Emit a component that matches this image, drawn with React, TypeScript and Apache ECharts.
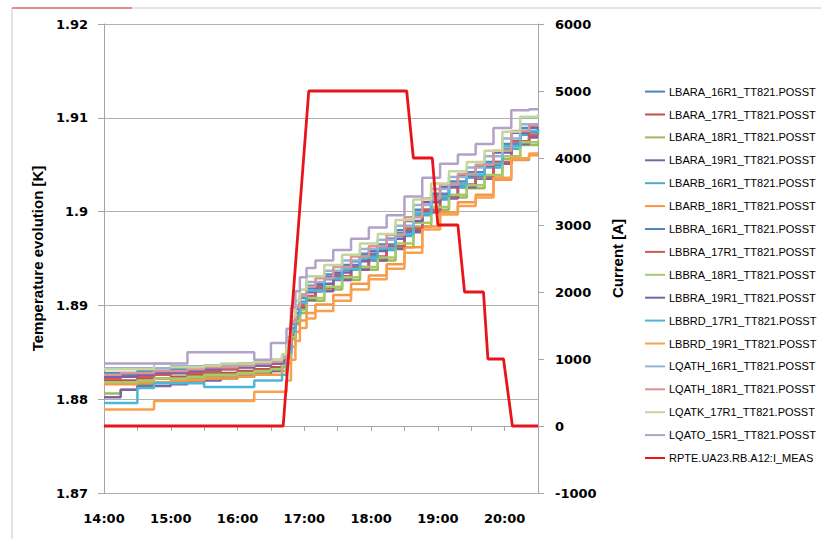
import React, { useEffect, useRef } from "react";
import * as echarts from "echarts";

// time in minutes after midnight
const times = [840, 855, 870, 885, 900, 915, 930, 945, 960, 975, 990, 1000, 1004, 1008, 1012, 1016, 1022, 1030, 1038, 1046, 1054, 1062, 1070, 1078, 1086, 1094, 1102, 1110, 1118, 1126, 1134, 1142, 1150, 1158, 1166, 1174, 1182, 1190, 1198, 1206, 1214, 1222, 1230];

const LBARA_16R1 = [1.8826,1.8826,1.8828,1.8828,1.8830,1.8832,1.8832,1.8834,1.8836,1.8836,1.8838,1.8842,1.8853,1.8873,1.8891,1.8903,1.8918,1.8918,1.8930,1.8930,1.8941,1.8941,1.8952,1.8952,1.8962,1.8962,1.8977,1.8977,1.8998,1.8998,1.9016,1.9016,1.9028,1.9028,1.9038,1.9038,1.9050,1.9050,1.9070,1.9070,1.9085,1.9085,1.9088];
const LBARA_17R1 = [1.8820,1.8820,1.8822,1.8822,1.8824,1.8826,1.8828,1.8828,1.8830,1.8832,1.8834,1.8838,1.8848,1.8868,1.8884,1.8898,1.8908,1.8918,1.8918,1.8928,1.8928,1.8940,1.8940,1.8949,1.8949,1.8961,1.8961,1.8980,1.8980,1.9000,1.9000,1.9016,1.9016,1.9027,1.9027,1.9036,1.9036,1.9051,1.9051,1.9072,1.9072,1.9080,1.9080];
const LBARA_18R1 = [1.8806,1.8810,1.8816,1.8818,1.8818,1.8822,1.8824,1.8824,1.8826,1.8828,1.8830,1.8834,1.8844,1.8864,1.8880,1.8892,1.8905,1.8905,1.8917,1.8917,1.8927,1.8927,1.8938,1.8938,1.8948,1.8948,1.8962,1.8962,1.8984,1.8984,1.9002,1.9002,1.9015,1.9015,1.9025,1.9025,1.9036,1.9036,1.9056,1.9056,1.9071,1.9071,1.9074];
const LBARA_19R1 = [1.8802,1.8810,1.8814,1.8814,1.8816,1.8818,1.8820,1.8822,1.8824,1.8826,1.8830,1.8836,1.8846,1.8866,1.8882,1.8896,1.8906,1.8915,1.8915,1.8927,1.8927,1.8938,1.8938,1.8948,1.8948,1.8960,1.8960,1.8978,1.8978,1.8999,1.8999,1.9014,1.9014,1.9026,1.9026,1.9035,1.9035,1.9051,1.9051,1.9072,1.9072,1.9079,1.9079];
const LBARB_16R1 = [1.8824,1.8824,1.8826,1.8826,1.8828,1.8830,1.8830,1.8832,1.8834,1.8836,1.8838,1.8842,1.8852,1.8872,1.8890,1.8902,1.8915,1.8915,1.8928,1.8928,1.8938,1.8938,1.8949,1.8949,1.8959,1.8959,1.8974,1.8974,1.8996,1.8996,1.9013,1.9013,1.9026,1.9026,1.9036,1.9036,1.9047,1.9047,1.9067,1.9067,1.9082,1.9082,1.9085];
const LBARB_18R1 = [1.8816,1.8816,1.8818,1.8818,1.8820,1.8820,1.8822,1.8822,1.8824,1.8826,1.8826,1.8830,1.8838,1.8856,1.8872,1.8884,1.8892,1.8901,1.8901,1.8911,1.8911,1.8923,1.8923,1.8932,1.8932,1.8944,1.8944,1.8962,1.8962,1.8984,1.8984,1.8999,1.8999,1.9010,1.9010,1.9018,1.9018,1.9034,1.9034,1.9055,1.9055,1.9060,1.9060];
const LBBRA_16R1 = [1.8828,1.8828,1.8830,1.8830,1.8832,1.8834,1.8836,1.8836,1.8838,1.8840,1.8840,1.8844,1.8860,1.8880,1.8896,1.8908,1.8921,1.8921,1.8933,1.8933,1.8943,1.8943,1.8955,1.8955,1.8965,1.8965,1.8980,1.8980,1.9002,1.9002,1.9019,1.9019,1.9032,1.9032,1.9042,1.9042,1.9053,1.9053,1.9072,1.9072,1.9089,1.9089,1.9090];
const LBBRA_17R1 = [1.8822,1.8824,1.8824,1.8826,1.8828,1.8828,1.8830,1.8832,1.8834,1.8836,1.8838,1.8840,1.8850,1.8870,1.8887,1.8900,1.8910,1.8919,1.8919,1.8931,1.8931,1.8941,1.8941,1.8952,1.8952,1.8963,1.8963,1.8982,1.8982,1.9002,1.9002,1.9017,1.9017,1.9029,1.9029,1.9038,1.9038,1.9053,1.9053,1.9075,1.9075,1.9082,1.9082];
const LBBRA_18R1 = [1.8818,1.8818,1.8820,1.8822,1.8822,1.8824,1.8826,1.8826,1.8828,1.8830,1.8832,1.8836,1.8846,1.8866,1.8883,1.8895,1.8908,1.8908,1.8920,1.8920,1.8930,1.8930,1.8941,1.8941,1.8951,1.8951,1.8966,1.8966,1.8988,1.8988,1.9005,1.9005,1.9018,1.9018,1.9028,1.9028,1.9039,1.9039,1.9059,1.9059,1.9074,1.9074,1.9076];
const LBBRA_19R1 = [1.8824,1.8824,1.8826,1.8828,1.8828,1.8830,1.8832,1.8834,1.8834,1.8836,1.8838,1.8842,1.8856,1.8876,1.8892,1.8904,1.8914,1.8923,1.8923,1.8935,1.8935,1.8947,1.8947,1.8958,1.8958,1.8971,1.8971,1.8990,1.8990,1.9010,1.9010,1.9026,1.9026,1.9038,1.9038,1.9049,1.9049,1.9063,1.9063,1.9084,1.9084,1.9090,1.9090];
const LBBRD_17R1 = [1.8796,1.8796,1.8812,1.8817,1.8817,1.8817,1.8813,1.8813,1.8813,1.8820,1.8820,1.8826,1.8850,1.8872,1.8890,1.8903,1.8916,1.8916,1.8929,1.8929,1.8939,1.8939,1.8951,1.8951,1.8961,1.8961,1.8976,1.8976,1.8998,1.8998,1.9016,1.9016,1.9029,1.9029,1.9039,1.9039,1.9051,1.9051,1.9070,1.9070,1.9086,1.9086,1.9087];
const LBBRD_19R1 = [1.8789,1.8789,1.8789,1.8798,1.8798,1.8798,1.8798,1.8798,1.8798,1.8808,1.8808,1.8808,1.8820,1.8842,1.8862,1.8876,1.8886,1.8894,1.8894,1.8905,1.8905,1.8917,1.8917,1.8928,1.8928,1.8939,1.8939,1.8956,1.8956,1.8981,1.8981,1.8997,1.8997,1.9006,1.9006,1.9015,1.9015,1.9036,1.9036,1.9057,1.9057,1.9062,1.9062];
const LQATH_16R1 = [1.8833,1.8833,1.8833,1.8833,1.8835,1.8835,1.8835,1.8836,1.8836,1.8838,1.8842,1.8846,1.8862,1.8884,1.8900,1.8912,1.8925,1.8925,1.8937,1.8937,1.8948,1.8948,1.8960,1.8960,1.8970,1.8970,1.8985,1.8985,1.9007,1.9007,1.9024,1.9024,1.9037,1.9037,1.9047,1.9047,1.9059,1.9059,1.9078,1.9078,1.9093,1.9093,1.9094];
const LQATH_18R1 = [1.8826,1.8828,1.8828,1.8830,1.8830,1.8832,1.8834,1.8834,1.8836,1.8838,1.8840,1.8844,1.8860,1.8882,1.8898,1.8910,1.8920,1.8929,1.8929,1.8941,1.8941,1.8952,1.8952,1.8963,1.8963,1.8975,1.8975,1.8994,1.8994,1.9014,1.9014,1.9029,1.9029,1.9040,1.9040,1.9050,1.9050,1.9065,1.9065,1.9086,1.9086,1.9092,1.9092];
const LQATK_17R1 = [1.8832,1.8832,1.8832,1.8838,1.8834,1.8834,1.8836,1.8838,1.8838,1.8840,1.8842,1.8848,1.8866,1.8888,1.8905,1.8917,1.8931,1.8931,1.8943,1.8943,1.8954,1.8954,1.8966,1.8966,1.8976,1.8976,1.8991,1.8991,1.9013,1.9013,1.9030,1.9030,1.9043,1.9043,1.9053,1.9053,1.9065,1.9065,1.9085,1.9085,1.9101,1.9101,1.9104];
const LQATO_15R1 = [1.8838,1.8838,1.8838,1.8838,1.8838,1.8850,1.8850,1.8850,1.8850,1.8842,1.8860,1.8860,1.8875,1.8898,1.8915,1.8930,1.8940,1.8948,1.8948,1.8959,1.8959,1.8971,1.8971,1.8983,1.8983,1.8996,1.8996,1.9016,1.9016,1.9036,1.9036,1.9051,1.9051,1.9061,1.9061,1.9072,1.9072,1.9089,1.9089,1.9108,1.9108,1.9109,1.9109];

const tempSeries = [
  { name: "LBARA_16R1_TT821.POSST", values: LBARA_16R1 },
  { name: "LBARA_17R1_TT821.POSST", values: LBARA_17R1 },
  { name: "LBARA_18R1_TT821.POSST", values: LBARA_18R1 },
  { name: "LBARA_19R1_TT821.POSST", values: LBARA_19R1 },
  { name: "LBARB_16R1_TT821.POSST", values: LBARB_16R1 },
  { name: "LBARB_18R1_TT821.POSST", values: LBARB_18R1 },
  { name: "LBBRA_16R1_TT821.POSST", values: LBBRA_16R1 },
  { name: "LBBRA_17R1_TT821.POSST", values: LBBRA_17R1 },
  { name: "LBBRA_18R1_TT821.POSST", values: LBBRA_18R1 },
  { name: "LBBRA_19R1_TT821.POSST", values: LBBRA_19R1 },
  { name: "LBBRD_17R1_TT821.POSST", values: LBBRD_17R1 },
  { name: "LBBRD_19R1_TT821.POSST", values: LBBRD_19R1 },
  { name: "LQATH_16R1_TT821.POSST", values: LQATH_16R1 },
  { name: "LQATH_18R1_TT821.POSST", values: LQATH_18R1 },
  { name: "LQATK_17R1_TT821.POSST", values: LQATK_17R1 },
  { name: "LQATO_15R1_TT821.POSST", values: LQATO_15R1 },
];

const currentName = "RPTE.UA23.RB.A12:I_MEAS";
const currentTimes = [840, 1001, 1024, 1112, 1118, 1135, 1140, 1158, 1164, 1181, 1185, 1199, 1207, 1230];
const currentValues = [0, 0, 5000, 5000, 4000, 4000, 3000, 3000, 2000, 2000, 1000, 1000, 0, 0];

const palette = [
  "#4F81BD", "#C0504D", "#9BBB59", "#8064A2", "#4BACC6", "#F79646",
  "#4F86C6", "#D05A57", "#A6C96A", "#7B62A8", "#4BB8D8", "#F9A04F",
  "#95B3D7", "#D99694", "#C3D69B", "#B3A2C7",
];
const currentColor = "#E8141A";

export default function App() {
  const ref = useRef<HTMLDivElement>(null);
  useEffect(() => {
    const chart = echarts.init(ref.current!, null, { renderer: "svg" });
    const gray = "#A6A6A6";
    const tickFont = { fontFamily: "DejaVu Sans", fontWeight: "bold" as const, fontSize: 13, color: "#000" };
    const nameFont = { fontFamily: "Liberation Sans", fontWeight: "bold" as const, fontSize: 15, color: "#000" };
    const series: any[] = tempSeries.map((s, i) => ({
      name: s.name,
      type: "line",
      step: "end",
      symbol: "none",
      showSymbol: false,
      yAxisIndex: 0,
      data: times.map((t, j) => [t, s.values[j]]),
      lineStyle: { width: 2.5, color: palette[i] },
      itemStyle: { color: palette[i] },
    }));
    series.push({
      name: currentName,
      type: "line",
      symbol: "none",
      showSymbol: false,
      yAxisIndex: 1,
      data: currentTimes.map((t, j) => [t, currentValues[j]]),
      lineStyle: { width: 2.8, color: currentColor },
      itemStyle: { color: currentColor },
    });
    chart.setOption({
      animation: false,
      backgroundColor: "#fff",
      graphic: [
        { type: "rect", shape: { x: 12, y: 8, width: 840, height: 580 }, style: { fill: "none", stroke: "#C8C8C8", lineWidth: 1 } },
        { type: "line", shape: { x1: 12, y1: 8, x2: 132, y2: 8 }, style: { stroke: "#E07070", lineWidth: 1.5 } },
      ],
      grid: { left: 104, top: 24, width: 434, height: 469 },
      legend: {
        orient: "vertical",
        left: 639,
        top: 81,
        itemWidth: 20,
        itemHeight: 14,
        itemGap: 11.7,
        itemStyle: { opacity: 0 },
        textStyle: { fontFamily: "Liberation Sans", fontSize: 11, color: "#000", padding: [0, 0, 0, -1] },
        data: [...tempSeries.map((s) => s.name), currentName],
      },
      xAxis: {
        type: "value",
        min: 840,
        max: 1230,
        interval: 30,
        axisLine: { show: true, lineStyle: { color: gray } },
        axisTick: { show: true, length: 5, lineStyle: { color: gray } },
        splitLine: { show: false },
        axisLabel: {
          ...tickFont,
          margin: 19,
          formatter: (v: number) => (v % 60 === 0 ? `${Math.floor(v / 60)}:00` : ""),
        },
      },
      yAxis: [
        {
          type: "value",
          min: 1.87,
          max: 1.92,
          interval: 0.01,
          name: "Temperature evolution [K]",
          nameLocation: "middle",
          nameGap: 58,
          nameTextStyle: nameFont,
          axisLine: { show: true, lineStyle: { color: gray } },
          axisTick: { show: true, length: 6, lineStyle: { color: gray } },
          splitLine: { show: true, lineStyle: { color: "#B0B0B0" } },
          axisLabel: { ...tickFont, margin: 16, formatter: (v: number) => String(Number(v.toFixed(2))) },
        },
        {
          type: "value",
          min: -1000,
          max: 6000,
          interval: 1000,
          position: "right",
          name: "Current [A]",
          nameLocation: "middle",
          nameGap: 72,
          nameTextStyle: nameFont,
          axisLine: { show: true, lineStyle: { color: gray } },
          axisTick: { show: true, length: 6, lineStyle: { color: gray } },
          splitLine: { show: false },
          axisLabel: { ...tickFont, margin: 17, formatter: (v: number) => String(v) },
        },
      ],
      series,
    });
    return () => chart.dispose();
  }, []);
  return <div ref={ref} style={{ position: "fixed", left: 0, top: 0, width: 821, height: 539 }} />;
}
